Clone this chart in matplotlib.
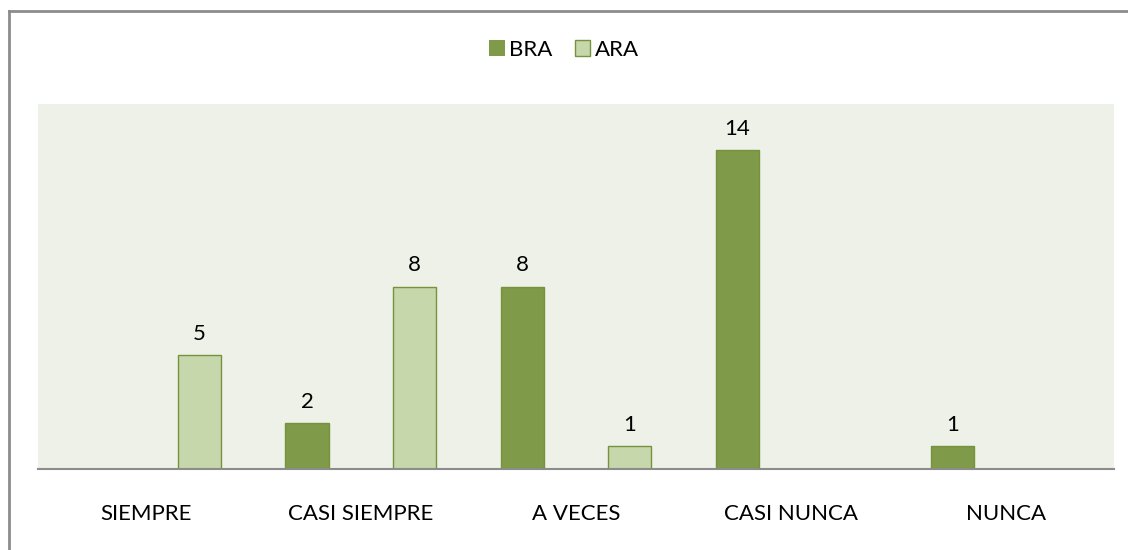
import numpy as np
import matplotlib.pyplot as plt
from matplotlib.lines import Line2D

# datos
categorias = ['SIEMPRE', 'CASI SIEMPRE', 'A VECES', 'CASI NUNCA', 'NUNCA']
bra = [0, 2, 8, 14, 1]
ara = [5, 8, 1, 0, 0]

plt.rcParams['font.family'] = ['Lato', 'DejaVu Sans']

fig = plt.figure(figsize=(11.28, 5.5), dpi=100)
ax = fig.add_axes([38 / 1128, 81 / 550, 1076 / 1128, 365 / 550])
ax.set_facecolor('#EEF1E7')

x = np.arange(len(categorias))
w = 0.2
b1 = ax.bar(x - 0.25, bra, w, color='#7F9A48', edgecolor='#76923C', linewidth=1, label='BRA')
b2 = ax.bar(x + 0.25, ara, w, color='#C6D7AB', edgecolor='#76923C', linewidth=1, label='ARA')

# etiquetas, sin ceros
for bars, vals in ((b1, bra), (b2, ara)):
    for r, v in zip(bars, vals):
        if v == 0:
            r.set_linewidth(0)
            continue
        ax.annotate(str(v), (r.get_x() + r.get_width() / 2, v), xytext=(0, 8),
                    textcoords='offset points', ha='center', va='bottom', fontsize=16)

ax.set_xlim(-0.5, len(categorias) - 0.5)
ax.set_ylim(0, 16)
ax.set_xticks(x)
ax.set_xticklabels(categorias, fontsize=16)
ax.tick_params(axis='x', length=0, pad=25)
ax.set_yticks([])
for s in ['top', 'right', 'left']:
    ax.spines[s].set_visible(False)
ax.spines['bottom'].set_color('#8C8C8C')
ax.spines['bottom'].set_linewidth(1.5)

fig.legend(handles=[b1, b2], labels=['BRA', 'ARA'], loc='center', bbox_to_anchor=(0.5, 1 - 50 / 550),
           ncol=2, frameon=False, fontsize=16, handlelength=0.7, handleheight=0.7,
           handletextpad=0.2, columnspacing=1.0)

# borde exterior
fig.add_artist(Line2D([9 / 1128, 9 / 1128], [0, 1 - 10.5 / 550], transform=fig.transFigure,
                      color='#8C8C8C', linewidth=2))
fig.add_artist(Line2D([9 / 1128, 1], [1 - 10.5 / 550, 1 - 10.5 / 550], transform=fig.transFigure,
                      color='#8C8C8C', linewidth=2))

fig.savefig('out.png', dpi=100)
